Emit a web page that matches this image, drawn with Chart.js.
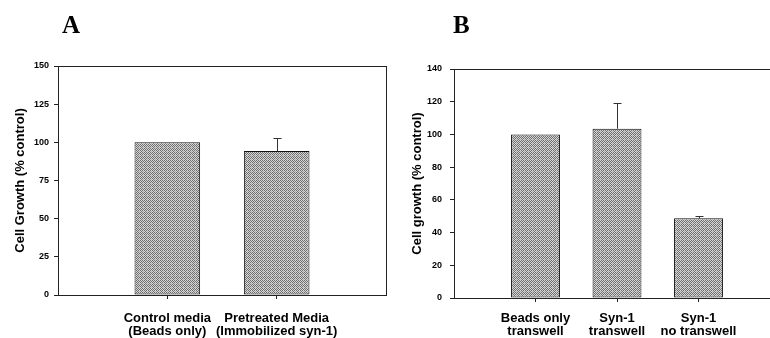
<!DOCTYPE html>
<html>
<head>
<meta charset="utf-8">
<script src="https://cdn.jsdelivr.net/npm/chart.js@4.4.1/dist/chart.umd.min.js"></script>
<style>
  html, body { margin: 0; padding: 0; background: #fff; width: 770px; height: 338px; overflow: hidden; }
  .panel { position: absolute; top: 0; height: 338px; }
  #wrapA { left: 0; width: 392px; }
  #wrapB { left: 385px; width: 400px; }
  .letter { position: absolute; top: 12px; font: bold 25px 'Liberation Serif', 'Times New Roman', serif; line-height: 26px; color: #000; }
</style>
</head>
<body>
<div class="panel" id="wrapA"><canvas id="chartA" width="392" height="338"></canvas></div>
<div class="panel" id="wrapB"><canvas id="chartB" width="400" height="338"></canvas></div>
<div class="letter" style="left:62px">A</div>
<div class="letter" style="left:453px">B</div>
<script>
// Panel A - immobilized syn-1 pretreated media
const labelsA = ['', ['Control media', '(Beads only)'], ['Pretreated Media', '(Immobilized syn-1)'], ''];
const valuesA = [null, 100, 94.3, null];
const errorsA = [null, 0, 8.5, null];

// Panel B - transwell experiment
const labelsB = ['', ['Beads only', 'transwell'], ['Syn-1', 'transwell'], ['Syn-1', 'no transwell'], ''];
const valuesB = [null, 100, 103.5, 48.7, null];
const errorsB = [null, 0, 15.6, 1.2, null];

const FONT = "'Liberation Sans', Arial, sans-serif";
const AXIS = '#222';

// grey dithered fill like the scanned bars
function stipple() {
    const c = document.createElement('canvas');
    c.width = 4; c.height = 4;
    const g = c.getContext('2d');
    g.fillStyle = '#d6d6d6'; g.fillRect(0, 0, 4, 4);
    g.fillStyle = '#6e6e6e';
    [[0, 0], [2, 0], [1, 1], [3, 1], [0, 2], [2, 2], [1, 3]].forEach(p => g.fillRect(p[0], p[1], 1, 1));
    g.fillStyle = '#a8a8a8'; g.fillRect(3, 3, 1, 1);
    return g.createPattern(c, 'repeat');
}

// upper error bars only
const errorBars = {
    id: 'errorBars',
    afterDatasetsDraw(chart) {
        const ds = chart.data.datasets[0];
        const meta = chart.getDatasetMeta(0);
        const y = chart.scales.y;
        const ctx = chart.ctx;
        ctx.save();
        ctx.strokeStyle = '#333';
        ctx.lineWidth = 1;
        meta.data.forEach((bar, i) => {
            const err = ds.errors[i];
            if (!err) return;
            const top = Math.round(y.getPixelForValue(ds.data[i] + err)) + 0.5;
            const x = Math.round(bar.x) + 0.5;
            ctx.beginPath();
            ctx.moveTo(x, bar.y);
            ctx.lineTo(x, top);
            ctx.moveTo(x - 4, top);
            ctx.lineTo(x + 4, top);
            ctx.stroke();
        });
        ctx.restore();
    }
};

function makeChart(id, labels, values, errors, yMax, yStep, yTitle, geo) {
    const last = labels.length - 1;
    return new Chart(document.getElementById(id), {
        type: 'bar',
        data: {
            labels: labels,
            datasets: [{
                data: values,
                errors: errors,
                backgroundColor: stipple(),
                borderColor: '#111',
                borderWidth: 1,
                borderSkipped: false,
                categoryPercentage: 1,
                barPercentage: 0.6
            }]
        },
        options: {
            responsive: false,
            animation: false,
            layout: { padding: { top: geo.top, right: geo.right, left: 0, bottom: 0 } },
            plugins: { legend: { display: false }, tooltip: { enabled: false } },
            scales: {
                x: {
                    offset: false,
                    border: { color: AXIS },
                    grid: {
                        offset: false,
                        color: c => c.index === last ? AXIS : 'transparent',
                        tickColor: c => (c.index > 0 && c.index < last) ? AXIS : 'transparent',
                        tickLength: 4
                    },
                    ticks: {
                        autoSkip: false, maxRotation: 0, padding: geo.xPad, color: '#000',
                        font: { family: FONT, size: 13, weight: 'bold', lineHeight: 1.02 }
                    },
                    afterFit: s => { s.height = geo.xh; s.paddingLeft = 0; s.paddingRight = 0; }
                },
                y: {
                    min: 0,
                    max: yMax,
                    border: { color: AXIS },
                    grid: {
                        color: c => (c.tick && c.tick.value === yMax) ? AXIS : 'transparent',
                        tickColor: AXIS,
                        tickLength: 4
                    },
                    ticks: {
                        stepSize: yStep, padding: geo.tickPad, color: '#000',
                        font: { family: FONT, size: 9, weight: 'bold' }
                    },
                    title: {
                        display: true, text: yTitle, color: '#000',
                        padding: { top: geo.titlePad, bottom: 0 },
                        font: { family: FONT, size: 13, weight: 'bold' }
                    },
                    afterFit: s => { s.width = geo.yw; }
                }
            }
        },
        plugins: [errorBars]
    });
}

makeChart('chartA', labelsA, valuesA, errorsA, 150, 25, 'Cell Growth (% control)',
    { top: 66, right: 6, xh: 43, yw: 58, tickPad: 5, titlePad: 13, xPad: 13 });
makeChart('chartB', labelsB, valuesB, errorsB, 140, 20, 'Cell growth (% control)',
    { top: 69, right: 5, xh: 40, yw: 69, tickPad: 8, titlePad: 25, xPad: 10 });
</script>
</body>
</html>
